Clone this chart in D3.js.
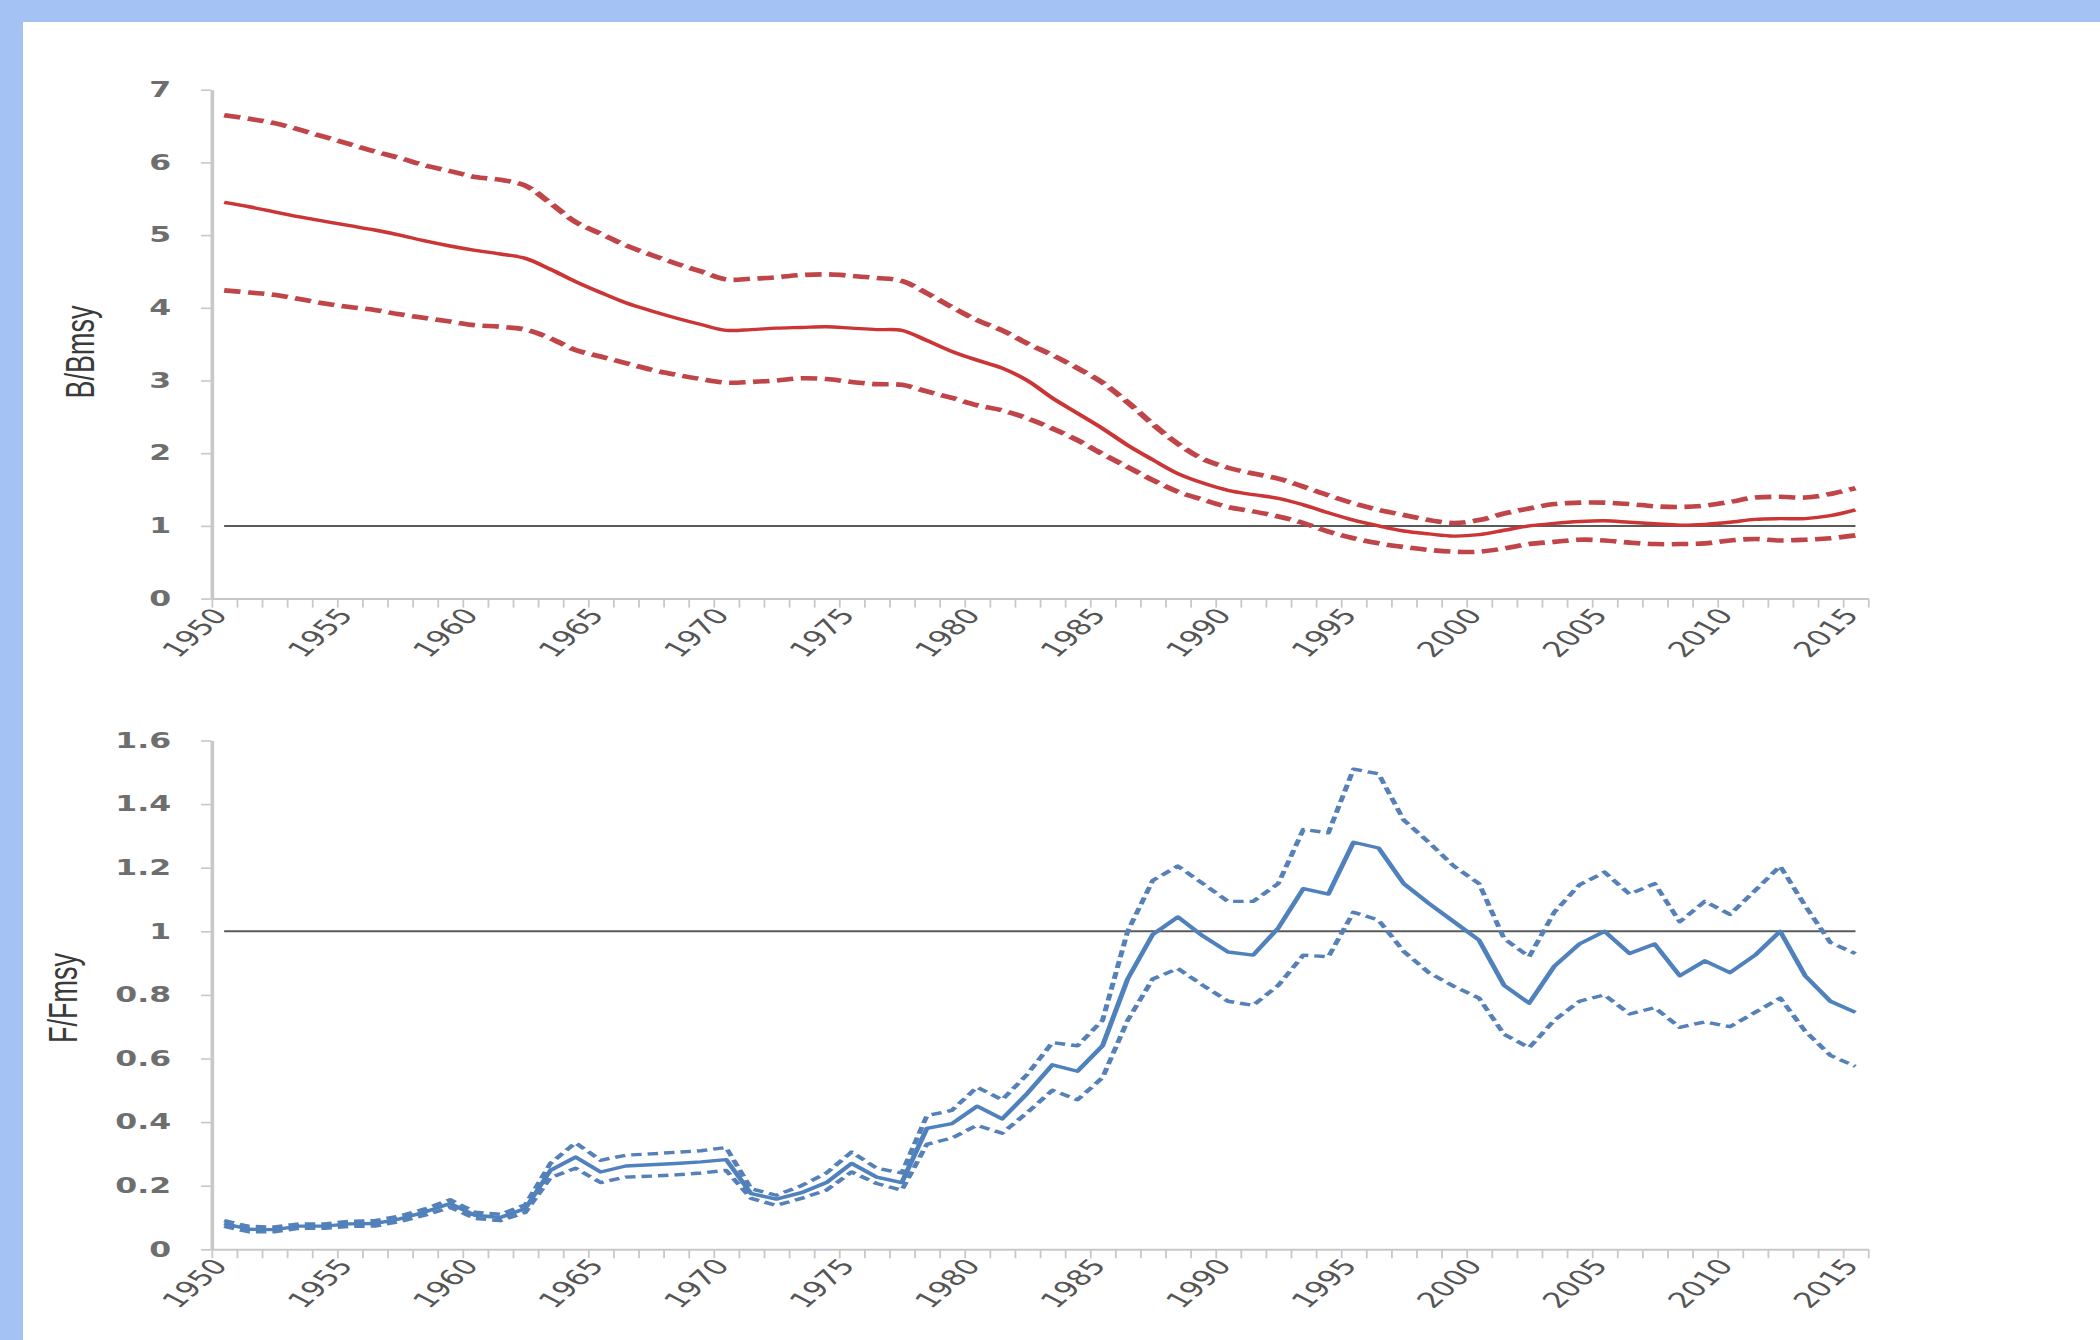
<!DOCTYPE html>
<html><head><meta charset="utf-8">
<script src="https://cdn.jsdelivr.net/npm/d3@7"></script>
<style>body{margin:0;background:#fff;} svg{display:block}</style>
</head><body>
<svg id="c" width="2100" height="1340"></svg>
<script>
// ---------- DATA ----------
const years = [1950,1951,1952,1953,1954,1955,1956,1957,1958,1959,1960,1961,1962,1963,1964,1965,1966,1967,1968,1969,
  1970,1971,1972,1973,1974,1975,1976,1977,1978,1979,1980,1981,1982,1983,1984,1985,1986,1987,1988,1989,
  1990,1991,1992,1993,1994,1995,1996,1997,1998,1999,2000,2001,2002,2003,2004,2005,2006,2007,2008,2009,
  2010,2011,2012,2013,2014,2015];
const yearLabels = [1950,1955,1960,1965,1970,1975,1980,1985,1990,1995,2000,2005,2010,2015];

// B/Bmsy
const bMed = [5.45,5.39,5.32,5.25,5.19,5.13,5.07,5.00,4.92,4.85,4.79,4.74,4.68,4.53,4.36,4.21,4.07,3.96,3.86,3.77,
  3.69,3.70,3.72,3.73,3.74,3.72,3.70,3.69,3.55,3.40,3.28,3.17,3.00,2.76,2.55,2.34,2.11,1.91,1.72,1.59,
  1.49,1.43,1.38,1.29,1.18,1.08,1.00,0.93,0.89,0.86,0.88,0.94,1.00,1.035,1.06,1.07,1.05,1.03,1.01,1.02,
  1.05,1.09,1.10,1.10,1.14,1.22];
const bHi = [6.65,6.60,6.54,6.45,6.35,6.25,6.15,6.06,5.96,5.88,5.80,5.76,5.68,5.44,5.18,5.02,4.86,4.73,4.61,4.50,
  4.39,4.40,4.42,4.45,4.46,4.44,4.41,4.37,4.20,4.01,3.83,3.69,3.51,3.35,3.17,2.97,2.70,2.40,2.13,1.92,
  1.80,1.72,1.65,1.54,1.42,1.31,1.22,1.15,1.08,1.04,1.08,1.17,1.24,1.30,1.32,1.32,1.30,1.27,1.26,1.28,
  1.33,1.39,1.40,1.39,1.44,1.52];
const bLo = [4.24,4.21,4.18,4.12,4.06,4.01,3.97,3.91,3.86,3.81,3.76,3.74,3.70,3.58,3.42,3.33,3.24,3.15,3.08,3.02,
  2.97,2.98,3.00,3.03,3.02,2.98,2.95,2.94,2.85,2.76,2.66,2.59,2.48,2.34,2.18,1.99,1.81,1.63,1.47,1.36,
  1.26,1.20,1.13,1.04,0.92,0.83,0.76,0.71,0.67,0.645,0.645,0.69,0.75,0.78,0.81,0.80,0.77,0.75,0.75,0.76,
  0.80,0.82,0.80,0.81,0.83,0.87];

// F/Fmsy
const fMed = [0.081,0.063,0.062,0.073,0.073,0.080,0.081,0.096,0.117,0.144,0.107,0.100,0.128,0.248,0.290,0.243,0.262,0.266,0.270,0.275,
  0.282,0.175,0.158,0.178,0.21,0.27,0.227,0.21,0.38,0.395,0.45,0.41,0.49,0.58,0.56,0.64,0.85,0.99,1.045,0.985,
  0.935,0.925,1.01,1.134,1.117,1.28,1.262,1.15,1.088,1.03,0.972,0.83,0.774,0.89,0.96,1.0,0.93,0.96,0.86,0.907,
  0.87,0.925,1.0,0.86,0.78,0.745];
const fHi = [0.09,0.072,0.07,0.08,0.08,0.088,0.09,0.105,0.127,0.156,0.117,0.11,0.14,0.27,0.335,0.28,0.296,0.30,0.305,0.31,
  0.32,0.19,0.17,0.20,0.24,0.306,0.255,0.24,0.42,0.437,0.51,0.47,0.55,0.65,0.64,0.72,1.0,1.16,1.205,1.15,
  1.094,1.094,1.15,1.32,1.31,1.51,1.495,1.35,1.28,1.205,1.15,0.977,0.92,1.06,1.146,1.186,1.117,1.15,1.03,1.094,
  1.053,1.128,1.205,1.08,0.965,0.93];
const fLo = [0.072,0.055,0.055,0.066,0.066,0.072,0.073,0.087,0.107,0.132,0.097,0.09,0.116,0.225,0.255,0.21,0.227,0.23,0.234,0.24,
  0.248,0.16,0.138,0.16,0.186,0.243,0.207,0.186,0.33,0.35,0.39,0.365,0.43,0.50,0.47,0.54,0.72,0.85,0.883,0.83,
  0.78,0.767,0.83,0.925,0.92,1.06,1.035,0.937,0.87,0.827,0.79,0.676,0.634,0.72,0.78,0.80,0.74,0.76,0.698,0.715,
  0.70,0.745,0.79,0.686,0.61,0.575];

const bTicks = [0,1,2,3,4,5,6,7];
const bTickLabels = ["0","1","2","3","4","5","6","7"];
const fTicks = [0,0.2,0.4,0.6,0.8,1,1.2,1.4,1.6];
const fTickLabels = ["0","0.2","0.4","0.6","0.8","1","1.2","1.4","1.6"];
const refValue = 1;

// ---------- DRAW ----------
const svg = d3.select("#c");
svg.append("rect").attr("width",2100).attr("height",1340).attr("fill","#a4c2f4");
svg.append("rect").attr("x",23).attr("y",22).attr("width",2077).attr("height",1318).attr("fill","#ffffff");

const SX = 1.5;                      // horizontal stretch of the original image
const X0 = 211.6/SX, X1 = 1868/SX;
const x = d3.scaleBand().domain(years).range([X0, X1]);
const xc = d => x(d) + x.bandwidth()/2;
const edges = years.map(d => d - 0.5).concat([years[years.length-1] + 0.5]);
const xEdge = d3.scaleLinear().domain([edges[0], edges[edges.length-1]]).range([X0, X1]);

function panel(cfg){
  const g = svg.append("g").attr("transform", `scale(${SX},1)`);
  const y = d3.scaleLinear().domain(cfg.domain).range(cfg.range);
  const y0 = y(cfg.domain[0]);

  // y axis
  const ya = g.append("g").attr("transform", `translate(${X0},0)`)
    .call(d3.axisLeft(y).tickValues(cfg.ticks).tickFormat((d,i)=>cfg.tickLabels[i])
      .tickSize(7).tickSizeOuter(0).tickPadding(20));
  ya.select(".domain").attr("stroke","#c8c8c8").attr("stroke-width",2.4);
  ya.selectAll(".tick line").attr("stroke","#c8c8c8").attr("stroke-width",1.6);
  ya.selectAll(".tick text").attr("font-family","DejaVu Sans").attr("font-size",21)
    .attr("font-weight","bold").attr("fill","#6e6e6e");

  // x axis
  const xa = g.append("g").attr("transform", `translate(0,${y0})`)
    .call(d3.axisBottom(xEdge).tickValues(edges).tickFormat("").tickSize(9).tickSizeOuter(0));
  xa.select(".domain").attr("stroke","#c8c8c8").attr("stroke-width",2);
  xa.selectAll(".tick line").attr("stroke","#c8c8c8").attr("stroke-width",1.2);

  g.selectAll(".xl").data(yearLabels).join("text").attr("class","xl")
    .attr("transform", d => `translate(${xc(d)+3},${y0+17}) rotate(-52)`)
    .attr("text-anchor","end").attr("font-family","DejaVu Sans").attr("font-size",21.5)
    .attr("fill","#555555").text(d => d);

  // y title
  g.append("text").attr("transform", `translate(${cfg.titleX},${cfg.titleY}) rotate(-90)`)
    .attr("text-anchor","middle").attr("font-family","Liberation Sans").attr("font-size",27)
    .attr("fill","#3a3a3a").text(cfg.title);

  // reference line
  g.append("line").attr("x1", xc(years[0])).attr("x2", xc(years[years.length-1]))
    .attr("y1", y(refValue)).attr("y2", y(refValue))
    .attr("stroke","#5a5a5a").attr("stroke-width",2);

  const line = d3.line().x((d,i)=>xc(years[i])).y(d=>y(d)).curve(cfg.curve);
  [cfg.hi, cfg.lo].forEach(s => {
    g.append("path").datum(s).attr("d", line).attr("fill","none")
      .attr("stroke", cfg.dashColor).attr("stroke-width", cfg.dashWidth)
      .attr("stroke-dasharray", cfg.dash).attr("stroke-linejoin","round");
  });
  g.append("path").datum(cfg.med).attr("d", line).attr("fill","none")
    .attr("stroke", cfg.color).attr("stroke-width", cfg.width).attr("stroke-linejoin","round");
}

panel({domain:[0,7], range:[598.6, 89.7], ticks:bTicks, tickLabels:bTickLabels,
  title:"B/Bmsy", titleX:94/SX, titleY:352,
  med:bMed, hi:bHi, lo:bLo, color:"#cc3535", dashColor:"#c04548", width:3.4, dashWidth:4.6,
  dash:"11,5", curve:d3.curveCatmullRom.alpha(0.5)});

panel({domain:[0,1.6], range:[1249.3, 740.5], ticks:fTicks, tickLabels:fTickLabels,
  title:"F/Fmsy", titleX:77/SX, titleY:998,
  med:fMed, hi:fHi, lo:fLo, color:"#4f81bd", dashColor:"#5580b8", width:3.4, dashWidth:3.4,
  dash:"7,4", curve:d3.curveLinear});
</script>
</body></html>
